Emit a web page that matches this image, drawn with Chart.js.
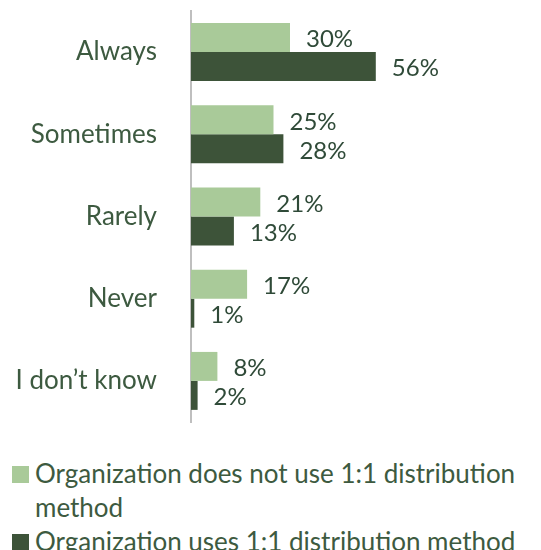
<!DOCTYPE html>
<html>
<head>
<meta charset="utf-8">
<script src="https://cdn.jsdelivr.net/npm/chart.js@4.4.0/dist/chart.umd.min.js"></script>
<style>
  body { margin: 0; background: #fff; font-family: Lato, sans-serif; }
  #wrap { width: 541px; height: 440px; position: relative; }
  #myChart { display: block; }
  #legend { margin: 0; padding: 0; list-style: none; position: absolute; top: 456px; left: 12px; width: 529px; }
  #legend li { display: flex; align-items: flex-start; color: #3D5A40; font-size: 26px; line-height: 34px; }
  #legend .box { flex: none; width: 17px; height: 17px; margin-top: 10px; margin-right: 6px; }
</style>
</head>
<body>
<div id="wrap"><canvas id="myChart" width="541" height="440"></canvas></div>
<ul id="legend"></ul>
<script>
// categorias y valores (%)
var categories = ['Always', 'Sometimes', 'Rarely', 'Never', 'I don\u2019t know'];
var notUse = [30, 25, 21, 17, 8];
var uses = [56, 28, 13, 1, 2];
var seriesNames = ['Organization does not use 1:1 distribution method', 'Organization uses 1:1 distribution method'];
var colors = ['#A9CA99', '#3D5339'];

var textColor = '#3D5A40';

// etiquetas de valor al final de cada barra
var valueLabels = {
    id: 'valueLabels',
    afterDatasetsDraw: function(chart) {
        var ctx = chart.ctx;
        ctx.save();
        ctx.font = '24px Lato';
        ctx.fillStyle = '#2F4A38';
        ctx.textAlign = 'left';
        ctx.textBaseline = 'middle';
        chart.data.datasets.forEach(function(ds, i) {
            chart.getDatasetMeta(i).data.forEach(function(bar, j) {
                ctx.fillText(ds.data[j] + '%', bar.x + 16, bar.y + 2);
            });
        });
        ctx.restore();
    }
};

var data = {
    labels: categories,
    datasets: [{
        label: seriesNames[0],
        data: notUse,
        backgroundColor: colors[0]
    }, {
        label: seriesNames[1],
        data: uses,
        backgroundColor: colors[1]
    }]
};

var config = {
    type: 'bar',
    data: data,
    options: {
        indexAxis: 'y',
        responsive: false,
        animation: false,
        layout: { padding: { top: 11, bottom: 18, right: 20, left: 0 } },
        datasets: {
            bar: { barPercentage: 1, categoryPercentage: 0.705 }
        },
        plugins: {
            legend: { display: false },
            tooltip: { enabled: false }
        },
        scales: {
            x: { display: false, min: 0, max: 100 },
            y: {
                grid: { display: false, drawTicks: false },
                border: { display: true, color: '#BFBFBF', width: 2 },
                ticks: { color: textColor, font: { family: 'Lato', size: 26 }, padding: 34 },
                afterFit: function(scale) {
                    // ancho fijo del eje y sin el relleno extra arriba/abajo
                    scale.width = 191;
                    scale.paddingTop = 0;
                    scale.paddingBottom = 0;
                }
            }
        }
    },
    plugins: [valueLabels]
};

new Chart(document.getElementById('myChart'), config);

// leyenda en HTML para que el texto pueda partirse en dos lineas
var legend = document.getElementById('legend');
seriesNames.forEach(function(name, i) {
    var li = document.createElement('li');
    var box = document.createElement('span');
    box.className = 'box';
    box.style.background = colors[i];
    var txt = document.createElement('span');
    txt.textContent = name;
    li.appendChild(box);
    li.appendChild(txt);
    legend.appendChild(li);
});
</script>
</body>
</html>
